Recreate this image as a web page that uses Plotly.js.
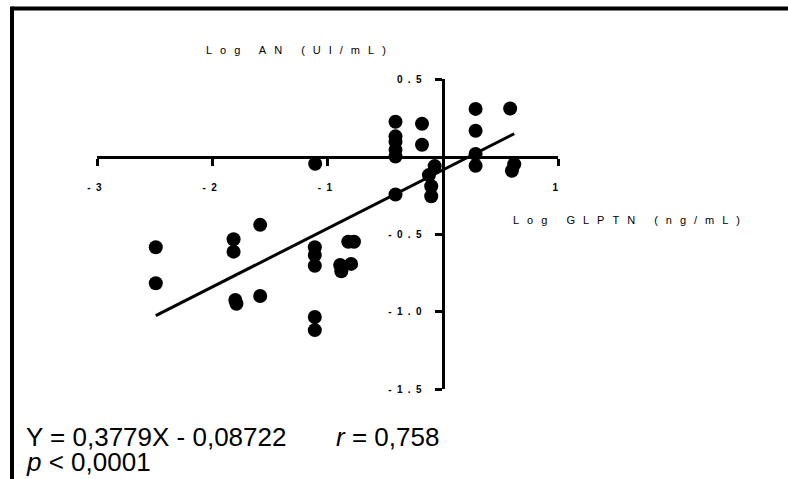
<!DOCTYPE html>
<html>
<head>
<meta charset="utf-8">
<script src="https://cdn.plot.ly/plotly-3.0.1.min.js"></script>
<style>
  html, body { margin: 0; padding: 0; background: #fff; }
  #chart { width: 788px; height: 479px; }
  .xtick text, .ytick text { letter-spacing: 5.3px; }
  .annotation[data-index="0"] text, .annotation[data-index="1"] text { letter-spacing: 8px; }
</style>
</head>
<body>
<div id="chart"></div>
<script>
// Log GLPTN (ng/mL)
const glptn = [-2.49, -2.49, -1.815, -1.815, -1.584, -1.80, -1.79, -1.584,
  -1.11, -1.11, -1.11, -1.11, -1.11, -1.107,
  -0.82, -0.77, -0.89, -0.88, -0.795,
  -0.41, -0.41, -0.41, -0.41, -0.41, -0.41,
  -0.18, -0.18, -0.07, -0.12, -0.10, -0.10,
  0.285, 0.285, 0.285, 0.285, 0.585, 0.62, 0.60];
// Log AN (UI/mL)
const an = [-0.585, -0.818, -0.534, -0.614, -0.441, -0.925, -0.95, -0.90,
  -0.585, -0.635, -0.705, -1.035, -1.12, -0.047,
  -0.55, -0.55, -0.70, -0.74, -0.693,
  0.224, 0.13, 0.095, 0.043, 0.0, -0.245,
  0.211, 0.076, -0.062, -0.12, -0.192, -0.256,
  0.307, 0.166, 0.016, -0.06, 0.31, -0.05, -0.092];
// regression line end points
const fitX = [-2.49, 0.62];
const fitY = [-1.027, 0.147];

const xTickVals = [-3, -2, -1, 1];
const xTickText = ['-3', '-2', '-1', '1'];
const yTickVals = [0.5, -0.5, -1.0, -1.5];
const yTickText = ['0.5', '-0.5', '-1.0', '-1.5'];

const xTitle = 'Log GLPTN (ng/mL)';
const yTitle = 'Log AN (UI/mL)';
const eqText = 'Y = 0,3779X - 0,08722';
const rText = '<i>r</i> = 0,758';
const pText = '<i>p</i> &lt; 0,0001';

const W = 788, H = 479;
const mL = 97, mR = 230, mT = 79, mB = 90;
const pw = W - mL - mR, ph = H - mT - mB;
const px = v => (v - mL) / pw;          // pixel x -> paper x
const py = v => (H - mB - v) / ph;      // pixel y -> paper y

const FONT = 'Liberation Sans, Arial, sans-serif';

const traces = [
  {
    x: glptn, y: an, type: 'scatter', mode: 'markers',
    marker: { color: '#000', size: 14 },
    hoverinfo: 'skip', showlegend: false
  },
  {
    x: fitX, y: fitY, type: 'scatter', mode: 'lines',
    line: { color: '#000', width: 3 },
    hoverinfo: 'skip', showlegend: false
  }
];

const layout = {
  width: W, height: H,
  margin: { l: mL, r: mR, t: mT, b: mB, pad: 0 },
  paper_bgcolor: '#fff', plot_bgcolor: 'rgba(0,0,0,0)',
  showlegend: false,
  font: { family: FONT, color: '#000' },
  xaxis: {
    range: [-3, 1], anchor: 'free', position: 0.75,
    showgrid: false, zeroline: false,
    showline: true, linecolor: '#000', linewidth: 3,
    ticks: 'outside', ticklen: 7, tickwidth: 3, tickcolor: '#000',
    tickvals: xTickVals, ticktext: xTickText,
    ticklabelstandoff: 13,
    tickfont: { family: FONT, size: 10, weight: 'bold', color: '#000' }
  },
  yaxis: {
    range: [-1.5, 0.5], anchor: 'free', position: 0.75,
    showgrid: false, zeroline: false,
    showline: true, linecolor: '#000', linewidth: 3,
    ticks: 'outside', ticklen: 7, tickwidth: 3, tickcolor: '#000',
    tickvals: yTickVals, ticktext: yTickText,
    ticklabelstandoff: 6,
    tickfont: { family: FONT, size: 10, weight: 'bold', color: '#000' }
  },
  annotations: [
    { text: yTitle, xref: 'paper', yref: 'paper', x: px(300), y: py(50),
      xanchor: 'center', yanchor: 'middle', showarrow: false,
      font: { family: FONT, size: 11, color: '#000' } },
    { text: xTitle, xref: 'paper', yref: 'paper', x: px(630), y: py(220),
      xanchor: 'center', yanchor: 'middle', showarrow: false,
      font: { family: FONT, size: 11, color: '#000' } },
    { text: eqText, xref: 'paper', yref: 'paper', x: px(24), y: py(437),
      xanchor: 'left', yanchor: 'middle', showarrow: false,
      font: { family: FONT, size: 26, color: '#000' } },
    { text: rText, xref: 'paper', yref: 'paper', x: px(334), y: py(437),
      xanchor: 'left', yanchor: 'middle', showarrow: false,
      font: { family: FONT, size: 26, color: '#000' } },
    { text: pText, xref: 'paper', yref: 'paper', x: px(24), y: py(462),
      xanchor: 'left', yanchor: 'middle', showarrow: false,
      font: { family: FONT, size: 26, color: '#000' } }
  ],
  shapes: [
    { type: 'line', xref: 'paper', yref: 'paper',
      x0: px(12), x1: px(800), y0: py(8.5), y1: py(8.5),
      line: { color: '#000', width: 4 } },
    { type: 'line', xref: 'paper', yref: 'paper',
      x0: px(12), x1: px(12), y0: py(6.5), y1: py(490),
      line: { color: '#000', width: 4 } }
  ]
};

Plotly.newPlot('chart', traces, layout, { staticPlot: true, displayModeBar: false });
</script>
</body>
</html>
